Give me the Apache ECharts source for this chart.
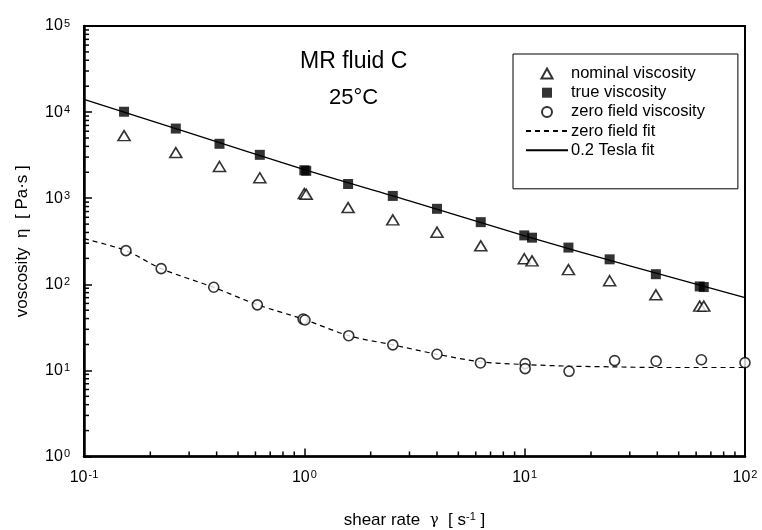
<!DOCTYPE html>
<html><head><meta charset="utf-8">
<script src="https://cdn.jsdelivr.net/npm/echarts@6/dist/echarts.min.js"></script>
<style>html,body{margin:0;padding:0;background:#fff}#c{width:762px;height:530px}</style>
</head><body><div id="c"></div>
<script>
// ---- data ----
const trueX    = [0.152, 0.261, 0.412, 0.628, 1.00, 1.02, 1.58, 2.52, 4.00, 6.32, 9.96, 10.8, 15.8, 24.3, 39.4, 62.3, 65.0];
const trueY    = [10100, 6440, 4285, 3190, 2110, 2080, 1462, 1063, 753, 527, 370, 348, 267, 195, 131, 94.5, 92.9];
const nominalX = [0.152, 0.261, 0.412, 0.628, 1.00, 1.02, 1.58, 2.52, 4.00, 6.32, 9.96, 10.8, 15.8, 24.3, 39.4, 62.3, 65.0];
const nominalY = [5330, 3388, 2335, 1726, 1130, 1110, 778, 560, 403, 280, 198, 187, 148, 110, 75.5, 55.8, 55.8];
const zeroX    = [0.155, 0.224, 0.388, 0.612, 0.987, 1.007, 1.59, 2.52, 4.0, 6.30, 10.05, 10.05, 15.9, 25.6, 39.5, 63.4, 100];
const zeroY    = [246, 152, 92.4, 57.7, 39.5, 38.5, 25.3, 19.8, 15.4, 12.2, 12.0, 10.5, 9.76, 13.0, 12.8, 13.3, 12.3];
const zeroFitX = [0.1, 0.155, 0.224, 0.388, 0.612, 1.0, 1.59, 2.52, 4.0, 6.3, 10, 16, 25, 40, 63, 100];
const zeroFitY = [339, 246, 152, 92, 58, 39, 25.3, 19.8, 15.4, 12.6, 11.7, 11.2, 11.0, 10.8, 10.8, 10.8];
const teslaFitX = [0.1, 0.3, 1, 3, 10, 30, 100];
const teslaFitY = [14050, 5750, 2150, 933, 365, 164, 70];
const xDecades = [-1, 0, 1, 2];
const yDecades = [0, 1, 2, 3, 4, 5];
const legendNames = ['nominal viscosity', 'true viscosity', 'zero field viscosity', 'zero field fit', '0.2 Tesla fit'];

const zip = (a, b) => a.map((v, i) => [v, b[i]]);
const minorTicks = (decs) => {
  const out = [];
  for (let i = 0; i < decs.length - 1; i++) for (let m = 2; m <= 9; m++) out.push(m * Math.pow(10, decs[i]));
  return out;
};
const FONT = 'Liberation Sans, Arial, sans-serif';
const supLabel = v => '{b|10}{s|' + Math.round(Math.log10(v)) + '}';
const richLab = {
  b: {fontSize: 16, fontFamily: FONT, color: '#000'},
  s: {fontSize: 11, fontFamily: FONT, color: '#000', verticalAlign: 'top', padding: [0, 0, 0, 1]}
};
const legendIcons = {
  'nominal viscosity': 'path://M5,0L10,9L0,9Z',
  'true viscosity': 'path://M0,0L10,0L10,10L0,10Z',
  'zero field viscosity': 'circle'
};

const chart = echarts.init(document.getElementById('c'), null, {renderer: 'canvas'});
const option = {
  animation: false,
  backgroundColor: '#fff',
  grid: {left: 84, right: 17, top: 26, bottom: 73.5, show: true, borderColor: '#000', borderWidth: 2,
         containLabel: false, outerBoundsMode: 'none'},
  xAxis: {
    type: 'log', logBase: 10, min: Math.pow(10, xDecades[0]), max: Math.pow(10, xDecades[xDecades.length - 1]),
    axisLine: {lineStyle: {color: '#000', width: 2.5}},
    axisTick: {inside: true, length: 8, lineStyle: {color: '#000', width: 1.5}},
    splitLine: {show: false},
    axisLabel: {margin: 13, formatter: supLabel, rich: richLab},
    name: 'shear rate  {g|γ}  [ s{s|-1} ]', nameLocation: 'middle', nameGap: 55,
    nameTextStyle: {fontSize: 17, fontFamily: FONT, color: '#000',
      rich: {g: {fontSize: 15, fontFamily: 'DejaVu Serif', color: '#000'},
             s: {fontSize: 11, fontFamily: FONT, color: '#000', verticalAlign: 'top'}}}
  },
  yAxis: {
    type: 'log', logBase: 10, min: Math.pow(10, yDecades[0]), max: Math.pow(10, yDecades[yDecades.length - 1]),
    axisLine: {lineStyle: {color: '#000', width: 2.5}},
    axisTick: {inside: true, length: 8, lineStyle: {color: '#000', width: 1.5}},
    splitLine: {show: false},
    axisLabel: {margin: 14, formatter: supLabel, rich: richLab},
    name: 'voscosity  η  [ Pa·s ]', nameLocation: 'middle', nameGap: 53, nameRotate: 90,
    nameTextStyle: {fontSize: 17, fontFamily: FONT, color: '#000'}
  },
  legend: {
    data: legendNames.map(n => legendIcons[n] ? {name: n, icon: legendIcons[n]} : {name: n, itemStyle: {opacity: 0}}),
    orient: 'vertical', left: 513, top: 54, symbolKeepAspect: true,
    padding: [11, 33, 30, 12], itemWidth: 42, itemHeight: 10, itemGap: 2.2,
    borderColor: '#000', borderWidth: 1, backgroundColor: '#fff',
    textStyle: {fontSize: 16.5, fontFamily: FONT, color: '#000', lineHeight: 15, padding: [0, 0, 0, -2]},
    selectedMode: false
  },
  graphic: [
    {type: 'text', left: 300, top: 50, style: {text: 'MR fluid C', font: '23px ' + FONT, fill: '#000'}},
    {type: 'text', left: 329, top: 87, style: {text: '25°C', font: '22px ' + FONT, fill: '#000'}}
  ],
  series: [
    {name: 'zero field fit', type: 'line', data: zip(zeroFitX, zeroFitY), symbol: 'none', smooth: 0.3,
     itemStyle: {color: '#000'}, lineStyle: {color: '#000', width: 1.2, type: [5, 4]}, z: 2},
    {name: '0.2 Tesla fit', type: 'line', data: zip(teslaFitX, teslaFitY), symbol: 'none', smooth: 0.3,
     itemStyle: {color: '#000'}, lineStyle: {color: '#000', width: 1.3}, z: 2},
    {name: 'nominal viscosity', type: 'scatter', data: zip(nominalX, nominalY), symbol: 'triangle', symbolSize: [12, 10],
     itemStyle: {color: '#fff', borderColor: '#000', borderWidth: 1.6}, z: 3},
    {name: 'true viscosity', type: 'scatter', data: zip(trueX, trueY), symbol: 'rect', symbolSize: 10,
     itemStyle: {color: '#000'}, z: 3},
    {name: 'zero field viscosity', type: 'scatter', data: zip(zeroX, zeroY), symbol: 'circle', symbolSize: 10,
     itemStyle: {color: '#fff', borderColor: '#000', borderWidth: 1.6}, z: 3, clip: false},
    {type: 'custom', silent: true, clip: false, z: 5, data: minorTicks(xDecades).map(v => [v, 1]),
     renderItem: (p, api) => { const c = api.coord([api.value(0), api.value(1)]);
       return {type: 'line', shape: {x1: c[0], y1: c[1], x2: c[0], y2: c[1] - 5}, style: {stroke: '#000', lineWidth: 1.5}}; }},
    {type: 'custom', silent: true, clip: false, z: 5, data: minorTicks(yDecades).map(v => [0.1, v]),
     renderItem: (p, api) => { const c = api.coord([api.value(0), api.value(1)]);
       return {type: 'line', shape: {x1: c[0], y1: c[1], x2: c[0] + 5, y2: c[1]}, style: {stroke: '#000', lineWidth: 1.5}}; }}
  ]
};
chart.setOption(option);
</script></body></html>
